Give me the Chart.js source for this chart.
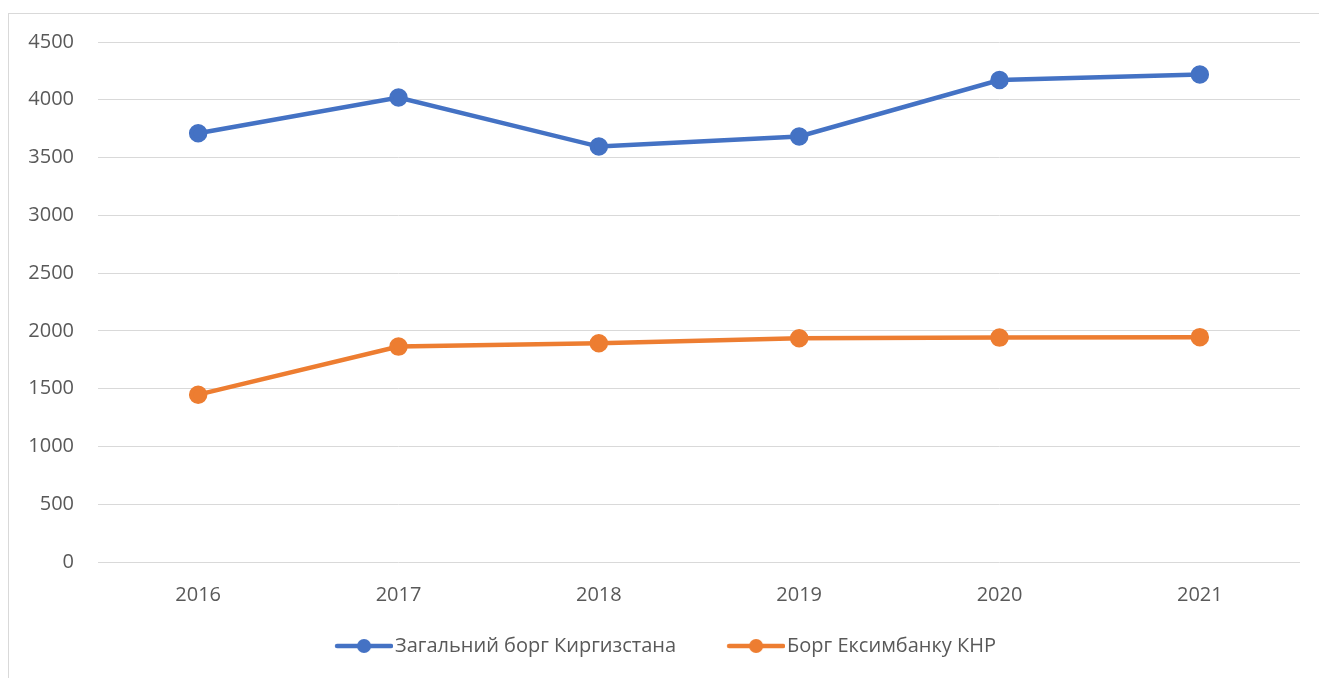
<!DOCTYPE html>
<html>
<head>
<meta charset="utf-8">
<script src="https://cdn.jsdelivr.net/npm/chart.js@4.4.0/dist/chart.umd.min.js"></script>
<style>
    html, body { margin: 0; padding: 0; background: #ffffff; }
    #wrap { position: relative; width: 1319px; height: 678px; overflow: hidden; }
    #frame {
        position: absolute; left: 8px; top: 13px; width: 1320px; height: 700px;
        border-left: 1px solid #d9d9d9; border-top: 1px solid #d9d9d9;
        pointer-events: none;
    }
</style>
</head>
<body>
<div id="wrap">
    <canvas id="ChartDebt" width="1319" height="678"></canvas>
    <div id="frame"></div>
</div>
<script>
// data
const years = ['2016', '2017', '2018', '2019', '2020', '2021'];
const totalDebt = [3710, 4020, 3595, 3682, 4171, 4219];
const eximDebt = [1448, 1864, 1893, 1936, 1942, 1946];
const seriesNames = ['Загальний борг Киргизстана', 'Борг Ексимбанку КНР'];
const yTicksMax = 4500;
const yTicksStep = 500;

const blue = '#4472C4';
const orange = '#ED7D31';
const textColor = '#595959';
const gridColor = '#d9d9d9';

// Excel style legend marker: line with a dot, shifted to sit right before the text
function legendMarker(color) {
    const c = document.createElement('canvas');
    c.width = 107;
    c.height = 16;
    const ctx = c.getContext('2d');
    ctx.strokeStyle = color;
    ctx.lineWidth = 4.5;
    ctx.lineCap = 'round';
    ctx.beginPath();
    ctx.moveTo(51, 8);
    ctx.lineTo(105, 8);
    ctx.stroke();
    ctx.fillStyle = color;
    ctx.beginPath();
    ctx.arc(78, 8, 7, 0, Math.PI * 2);
    ctx.fill();
    return c;
}

// nudge the legend a little to the left, like in the original
const legendShift = {
    id: 'legendShift',
    afterLayout: function (chart) {
        chart.legend.left -= 14;
        chart.legend.right -= 14;
    }
};

const data = {
    labels: years,
    datasets: [{
        label: seriesNames[0],
        data: totalDebt,
        borderColor: blue,
        backgroundColor: blue,
        borderWidth: 4.5,
        pointRadius: 7,
        pointHoverRadius: 7,
        pointStyle: 'circle',
        legendImg: legendMarker(blue)
    }, {
        label: seriesNames[1],
        data: eximDebt,
        borderColor: orange,
        backgroundColor: orange,
        borderWidth: 4.5,
        pointRadius: 7,
        pointHoverRadius: 7,
        pointStyle: 'circle',
        legendImg: legendMarker(orange)
    }]
};

const config = {
    type: 'line',
    data: data,
    plugins: [legendShift],
    options: {
        responsive: false,
        animation: false,
        layout: {
            padding: { left: 18, right: 19, top: 42, bottom: 12 }
        },
        plugins: {
            legend: {
                position: 'bottom',
                labels: {
                    usePointStyle: true,
                    pointStyleWidth: 91,
                    padding: 10,
                    color: textColor,
                    font: { family: 'Open Sans', size: 20 },
                    generateLabels: function (chart) {
                        return chart.data.datasets.map(function (ds, i) {
                            return {
                                text: ds.label,
                                pointStyle: ds.legendImg,
                                fillStyle: ds.borderColor,
                                strokeStyle: ds.borderColor,
                                lineWidth: 0,
                                fontColor: textColor,
                                hidden: false,
                                datasetIndex: i
                            };
                        });
                    }
                }
            },
            tooltip: { enabled: false }
        },
        scales: {
            x: {
                offset: true,
                grid: { display: false },
                border: { display: false },
                ticks: {
                    color: textColor,
                    padding: 13,
                    font: { family: 'Open Sans', size: 20 }
                },
                afterFit: function (scale) { scale.height = 64; }
            },
            y: {
                min: 0,
                max: yTicksMax,
                grid: { color: gridColor, lineWidth: 1, drawTicks: false },
                border: { display: false },
                ticks: {
                    stepSize: yTicksStep,
                    color: textColor,
                    padding: 24,
                    font: { family: 'Open Sans', size: 20 },
                    callback: function (value) { return String(value); }
                },
                afterFit: function (scale) { scale.width = 80; }
            }
        }
    }
};

const myChart = new Chart(
    document.getElementById('ChartDebt'),
    config
);
</script>
</body>
</html>
